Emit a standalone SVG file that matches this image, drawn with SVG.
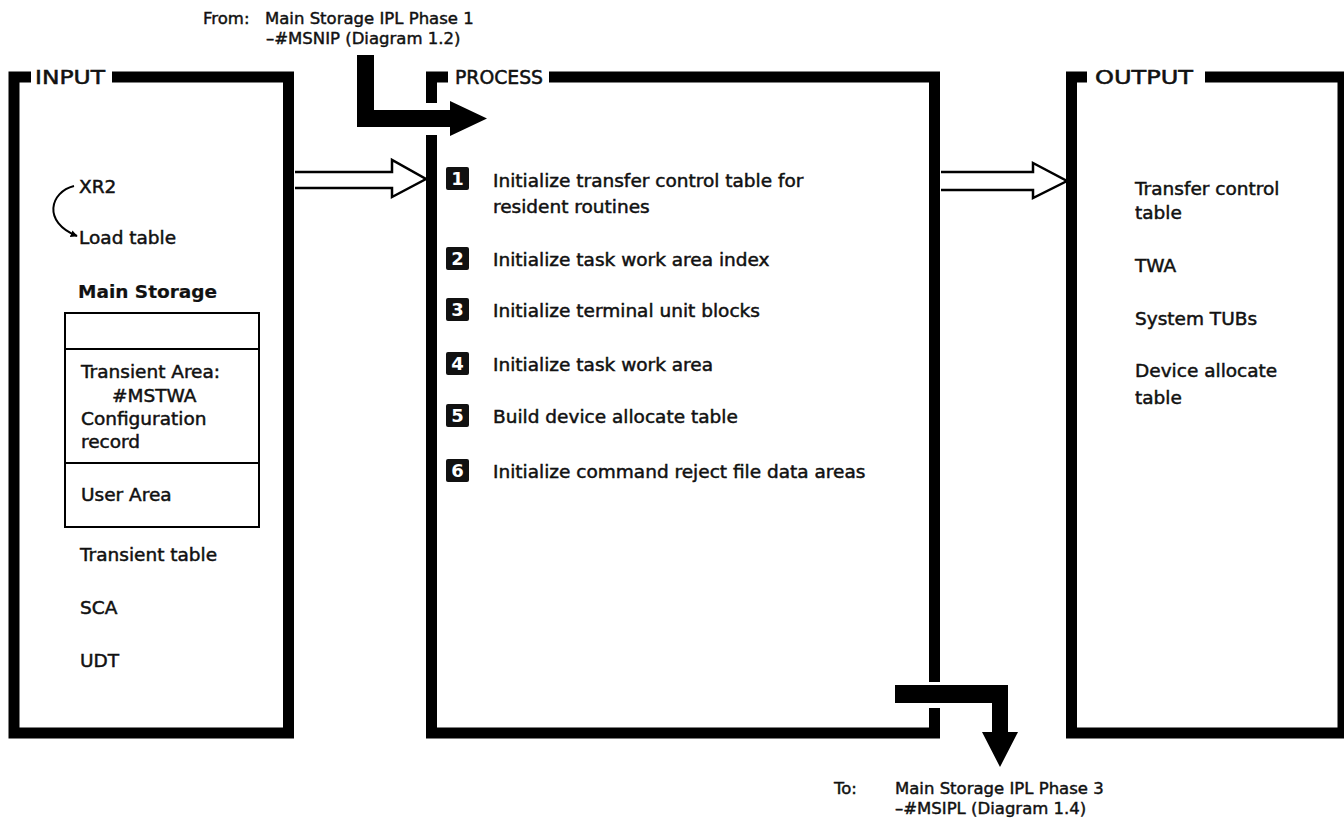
<svg xmlns="http://www.w3.org/2000/svg" width="1344" height="823" viewBox="0 0 1344 823">
  <style>
    .t { font-family: "DejaVu Sans", "Liberation Sans", sans-serif; font-size: 18.5px; fill: #111; stroke: #111; stroke-width: 0.5px; }
    .h { font-family: "DejaVu Sans", "Liberation Sans", sans-serif; font-size: 20px; fill: #111; stroke: #111; stroke-width: 0.55px; }
    .s { font-family: "DejaVu Sans", "Liberation Sans", sans-serif; font-size: 16.5px; fill: #111; stroke: #111; stroke-width: 0.45px; }
    .b { font-weight: bold; stroke-width: 0.2px; }
    .frame { fill: none; stroke: #000; stroke-width: 11; stroke-linejoin: miter; }
    .hollow { fill: #fff; stroke: #000; stroke-width: 2.5; stroke-linejoin: miter; }
    .badge { fill: #111; }
    .num { font-family: "DejaVu Sans", "Liberation Sans", sans-serif; font-size: 18px; font-weight: bold; fill: #fff; text-anchor: middle; }
  </style>
  <defs>
    <marker id="tip" viewBox="0 0 10 10" refX="9" refY="5" markerWidth="7" markerHeight="7" orient="auto" markerUnits="userSpaceOnUse">
      <path d="M0,0 L10,5 L0,10 z" fill="#000"/>
    </marker>
  </defs>
  <rect width="1344" height="823" fill="#fff"/>

  <!-- source / destination notes -->
  <g id="from-note">
    <text class="s" x="203" y="24">From:</text>
    <text class="s" x="265" y="24">Main Storage IPL Phase 1</text>
    <text class="s" x="266" y="44">–#MSNIP (Diagram 1.2)</text>
  </g>
  <g id="to-note">
    <text class="s" x="834" y="794">To:</text>
    <text class="s" x="895" y="794">Main Storage IPL Phase 3</text>
    <text class="s" x="895" y="814">–#MSIPL (Diagram 1.4)</text>
  </g>

  <!-- INPUT panel -->
  <g id="input">
    <path class="frame" d="M31 77 H14 V733 H288.5 V77 H112"/>
    <text class="h" x="35" y="84" textLength="70" lengthAdjust="spacingAndGlyphs">INPUT</text>
    <text class="t" x="79" y="193">XR2</text>
    <path d="M74 186 C 50 192, 42 222, 77 236" fill="none" stroke="#000" stroke-width="2" marker-end="url(#tip)"/>
    <text class="t" x="79" y="244">Load table</text>
    <text class="t b" x="78" y="298">Main Storage</text>
    <rect x="65" y="313" width="194" height="214" fill="none" stroke="#000" stroke-width="2"/>
    <line x1="65" y1="349" x2="259" y2="349" stroke="#000" stroke-width="2"/>
    <line x1="65" y1="463" x2="259" y2="463" stroke="#000" stroke-width="2"/>
    <text class="t" x="81" y="378">Transient Area:</text>
    <text class="t" x="112" y="402">#MSTWA</text>
    <text class="t" x="81" y="425">Configuration</text>
    <text class="t" x="81" y="448">record</text>
    <text class="t" x="81" y="501">User Area</text>
    <text class="t" x="80" y="561">Transient table</text>
    <text class="t" x="80" y="614">SCA</text>
    <text class="t" x="80" y="667">UDT</text>
  </g>

  <!-- PROCESS panel -->
  <g id="process">
    <path class="frame" d="M448 77 H431.5 V103"/>
    <path class="frame" d="M431.5 135 V733 H934.5 V708"/>
    <path class="frame" d="M934.5 682 V77 H549"/>
    <text class="h" x="455" y="84" textLength="88" lengthAdjust="spacingAndGlyphs">PROCESS</text>
  </g>
  <g id="step1">
    <rect class="badge" x="446" y="167" width="23" height="23" rx="2"/>
    <text class="num" x="457.5" y="185">1</text>
    <text class="t" x="493" y="187">Initialize transfer control table for</text>
    <text class="t" x="493" y="213">resident routines</text>
  </g>
  <g id="step2">
    <rect class="badge" x="446" y="247" width="23" height="23" rx="2"/>
    <text class="num" x="457.5" y="265">2</text>
    <text class="t" x="493" y="266">Initialize task work area index</text>
  </g>
  <g id="step3">
    <rect class="badge" x="446" y="298" width="23" height="23" rx="2"/>
    <text class="num" x="457.5" y="316">3</text>
    <text class="t" x="493" y="317">Initialize terminal unit blocks</text>
  </g>
  <g id="step4">
    <rect class="badge" x="446" y="352" width="23" height="23" rx="2"/>
    <text class="num" x="457.5" y="370">4</text>
    <text class="t" x="493" y="371">Initialize task work area</text>
  </g>
  <g id="step5">
    <rect class="badge" x="446" y="404" width="23" height="23" rx="2"/>
    <text class="num" x="457.5" y="422">5</text>
    <text class="t" x="493" y="423">Build device allocate table</text>
  </g>
  <g id="step6">
    <rect class="badge" x="446" y="459" width="23" height="23" rx="2"/>
    <text class="num" x="457.5" y="477">6</text>
    <text class="t" x="493" y="478">Initialize command reject file data areas</text>
  </g>

  <!-- OUTPUT panel -->
  <g id="output">
    <path class="frame" d="M1087 77 H1071.5 V733 H1343 V77 H1205"/>
    <text class="h" x="1095" y="84" textLength="98" lengthAdjust="spacingAndGlyphs">OUTPUT</text>
    <text class="t" x="1135" y="195">Transfer control</text>
    <text class="t" x="1135" y="219">table</text>
    <text class="t" x="1135" y="272">TWA</text>
    <text class="t" x="1135" y="325">System TUBs</text>
    <text class="t" x="1135" y="377">Device allocate</text>
    <text class="t" x="1135" y="404">table</text>
  </g>

  <!-- connectors -->
  <g id="connectors">
    <path d="M357 55 H374 V110 H450 V101 L487 118.5 L450 136 V127 H357 Z" fill="#000"/>
    <path d="M895 685 H1008 V732 H1018 L1000 767 L982 732 H992 V703 H895 Z" fill="#000"/>
    <path class="hollow" d="M295 172 H392 V160 L426 179 L392 197 V188 H295"/>
    <path class="hollow" d="M941 172 H1033 V163 L1067 181 L1033 198 V190 H941"/>
  </g>
</svg>
